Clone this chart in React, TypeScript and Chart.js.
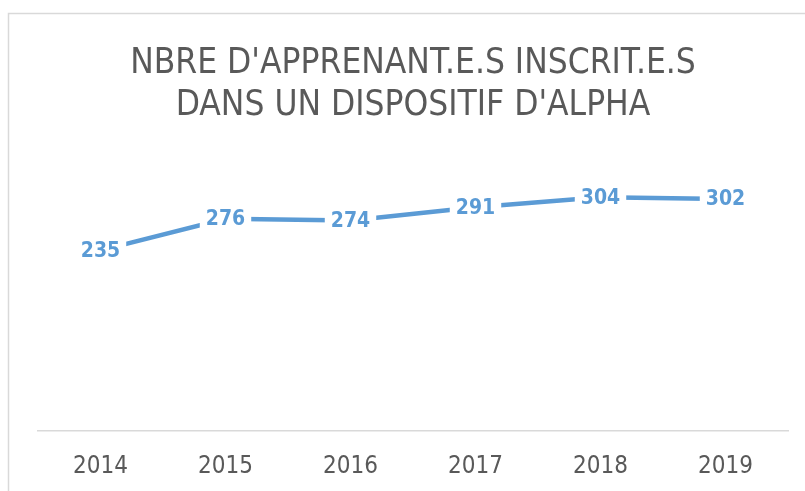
import React, { useEffect, useRef } from "react";
import { Chart, registerables } from "chart.js";

Chart.register(...registerables);

const years = ["2014", "2015", "2016", "2017", "2018", "2019"];
const learners = [235, 276, 274, 291, 304, 302];
const titleLines = ["NBRE D'APPRENANT.E.S INSCRIT.E.S", "DANS UN DISPOSITIF D'ALPHA"];
const yMin = 0;
const yMax = 350;

const FONT = "'Liberation Sans Narrow', 'DejaVu Sans Condensed', 'Liberation Sans', sans-serif";
const BLUE = "#5B9BD5";
const GREY = "#595959";

const framePlugin = {
  id: "frame",
  beforeDraw(chart: any) {
    const ctx = chart.ctx;
    ctx.save();
    ctx.fillStyle = "#ffffff";
    ctx.fillRect(0, 0, chart.width, chart.height);
    ctx.strokeStyle = "#D9D9D9";
    ctx.lineWidth = 1.5;
    ctx.beginPath();
    ctx.moveTo(8.5, chart.height + 5);
    ctx.lineTo(8.5, 13.5);
    ctx.lineTo(chart.width + 5, 13.5);
    ctx.stroke();
    ctx.restore();
  },
};

const labelPlugin = {
  id: "valueLabels",
  afterDatasetsDraw(chart: any) {
    const ctx = chart.ctx;
    const meta = chart.getDatasetMeta(0);
    const data = chart.data.datasets[0].data as number[];
    ctx.save();
    ctx.font = `bold 21px ${FONT}`;
    ctx.textAlign = "center";
    ctx.textBaseline = "middle";
    meta.data.forEach((pt: any, i: number) => {
      const txt = String(data[i]);
      const w = ctx.measureText(txt).width;
      const h = 22;
      ctx.fillStyle = "#ffffff";
      ctx.fillRect(pt.x - w / 2 - 6, pt.y - h / 2, w + 12, h);
      ctx.fillStyle = BLUE;
      ctx.fillText(txt, pt.x, pt.y + 1);
    });
    ctx.restore();
  },
};

export default function App() {
  const ref = useRef<HTMLCanvasElement | null>(null);

  useEffect(() => {
    if (!ref.current) return;
    const chart = new Chart(ref.current, {
      type: "line",
      data: {
        labels: years,
        datasets: [
          {
            data: learners,
            borderColor: BLUE,
            borderWidth: 4.5,
            pointRadius: 0,
            tension: 0,
            borderCapStyle: "round",
            fill: false,
          },
        ],
      },
      options: {
        animation: false,
        responsive: true,
        maintainAspectRatio: false,
        layout: { padding: { left: 38, right: 17, top: 0, bottom: 0 } },
        plugins: {
          legend: { display: false },
          tooltip: { enabled: false },
          title: {
            display: true,
            text: titleLines,
            color: GREY,
            font: { family: FONT, size: 35, weight: "normal", lineHeight: 1.2 },
            padding: { top: 43, bottom: 35 },
          },
        },
        scales: {
          x: {
            offset: true,
            grid: { display: false, drawTicks: false },
            border: { display: true, color: "#D9D9D9", width: 1.5 },
            ticks: {
              color: GREY,
              font: { family: FONT, size: 24 },
              padding: 21,
              maxRotation: 0,
            },
            afterFit(scale: any) {
              scale.height = 60;
            },
          },
          y: {
            display: false,
            min: yMin,
            max: yMax,
          },
        },
      },
      plugins: [framePlugin, labelPlugin],
    });
    return () => chart.destroy();
  }, []);

  return (
    <div style={{ position: "fixed", left: 0, top: 0, width: 805, height: 491, background: "#fff" }}>
      <canvas ref={ref} />
    </div>
  );
}
